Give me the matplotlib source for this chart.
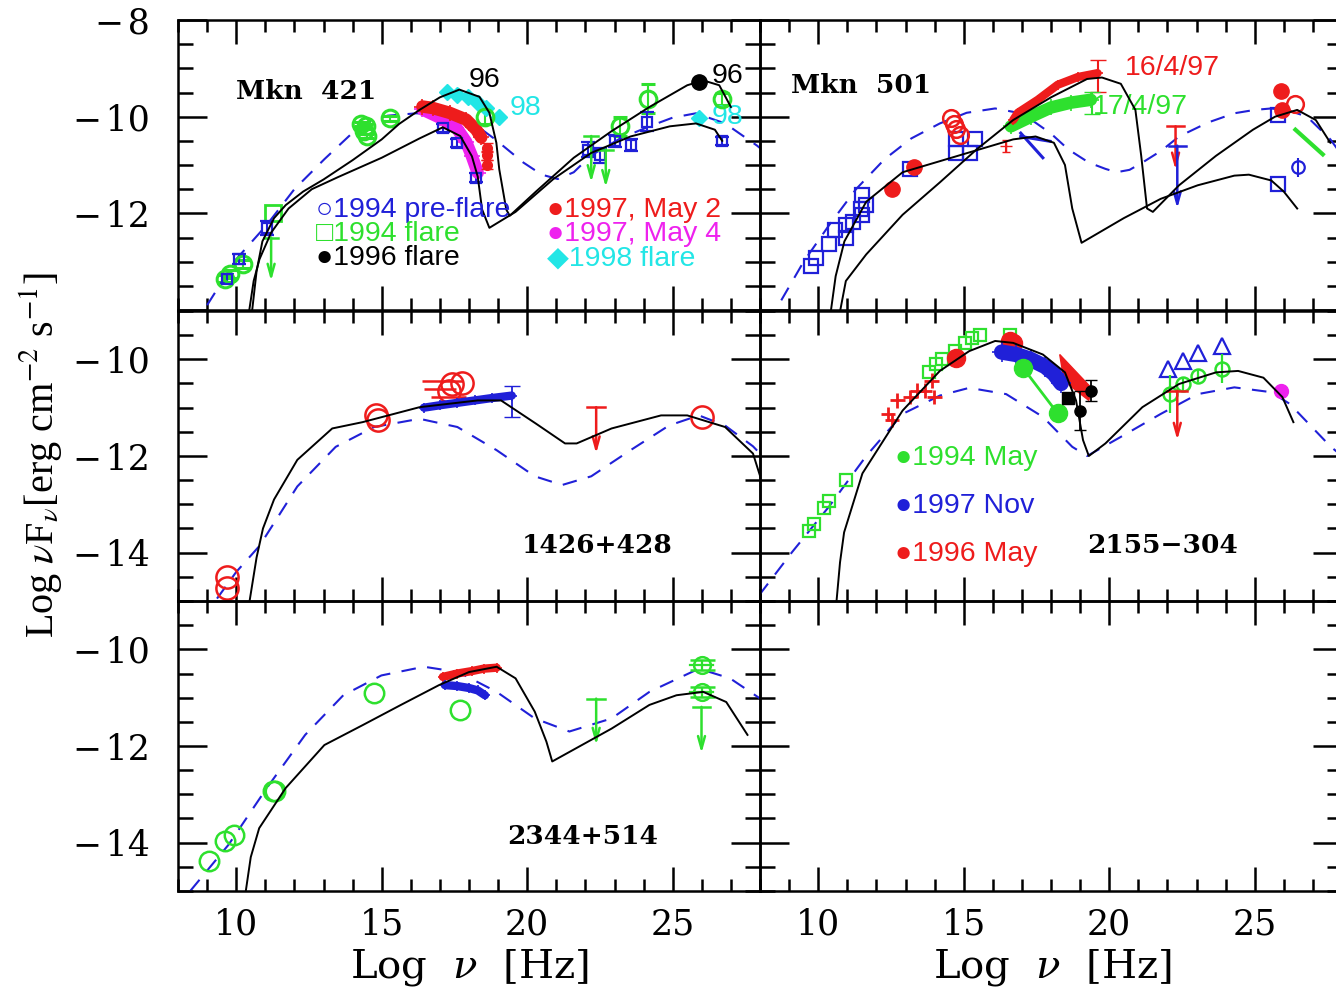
import matplotlib
matplotlib.use('Agg')
import matplotlib.pyplot as plt
from matplotlib.ticker import MultipleLocator, FuncFormatter

plt.rcParams['font.family'] = ['DejaVu Serif']

BLUE = '#2020d8'
GREEN = '#2ee02e'
RED = '#ee1c1c'
MAG = '#ee22ee'
CYAN = '#22e6e6'
BLACK = 'black'
SANS = ['Liberation Sans', 'DejaVu Sans']

# ---------------- Mkn 421 ----------------
m421_dash_x = [9.0, 10.0, 11.05, 12.0, 13.03, 14.34, 15.2, 16.2, 17.0, 18.0, 18.9, 19.87, 20.5, 21.05, 21.6, 22.2, 23.2, 24.2, 25.0, 25.8, 26.8, 27.9, 28.0]
m421_dash_y = [-13.9, -12.95, -12.24, -11.5, -10.88, -10.14, -9.98, -9.93, -9.96, -10.07, -10.47, -10.95, -11.2, -11.29, -11.15, -10.8, -10.45, -10.2, -10.02, -9.93, -10.14, -10.6, -10.65]
m421_lo_x = [10.45, 10.6, 10.8, 11.2, 11.8, 12.6, 13.5, 15.0, 16.3, 17.1, 17.7, 18.1, 18.3, 18.45, 18.7, 19.6, 20.9, 22.2, 23.55, 24.9, 25.8, 26.45, 26.7]
m421_lo_y = [-14.0, -13.4, -12.95, -12.4, -11.9, -11.5, -11.25, -10.85, -10.45, -10.22, -10.4, -10.82, -11.24, -11.92, -12.3, -11.97, -11.29, -10.75, -10.41, -10.2, -10.14, -10.27, -10.5]
m421_hi_x = [10.55, 10.7, 10.9, 11.3, 11.7, 12.3, 13.0, 14.0, 15.0, 15.6, 16.3, 17.0, 17.67, 18.36, 18.7, 18.94, 19.04, 19.28, 19.4, 20.3, 21.6, 22.9, 24.2, 25.5, 26.05, 26.6, 27.0]
m421_hi_y = [-14.0, -13.2, -12.58, -12.1, -11.83, -11.55, -11.3, -10.9, -10.47, -10.15, -9.86, -9.6, -9.44, -9.59, -9.92, -10.54, -11.09, -11.92, -12.05, -11.55, -10.85, -10.3, -9.8, -9.35, -9.25, -9.35, -9.8]
m421_blue_x = [9.7, 10.1, 11.05, 17.1, 17.6, 18.25, 22.1, 22.5, 23.0, 23.55, 24.1, 26.7]
m421_blue_y = [-13.35, -12.95, -12.3, -10.23, -10.54, -11.26, -10.68, -10.8, -10.5, -10.58, -10.1, -10.5]
m421_blue_err = [0.1, 0.1, 0.15, 0.08, 0.08, 0.1, 0.15, 0.15, 0.12, 0.12, 0.2, 0.08]
m421_gsq_x = [11.25]
m421_gsq_y = [-12.0]
m421_gc_x = [9.6, 9.8, 10.25, 14.3, 14.4, 14.5, 14.45, 15.3, 18.55, 23.2, 24.15, 26.7]
m421_gc_y = [-13.35, -13.25, -13.05, -10.15, -10.3, -10.4, -10.2, -10.03, -10.0, -10.2, -9.63, -9.63]
m421_gc_err = [0.08, 0.08, 0.08, 0.05, 0.05, 0.05, 0.05, 0.05, 0.15, 0.2, 0.3, 0.12]
m421_gul_x = [11.2, 22.2, 22.7]
m421_gul_top = [-12.5, -10.4, -10.68]
m421_gul_bot = [-13.4, -11.36, -11.46]
m421_b96_x = [25.9]
m421_b96_y = [-9.29]
m421_cyan_x = [17.26, 17.6, 17.95, 18.3, 18.6, 19.04, 25.9]
m421_cyan_y = [-9.48, -9.55, -9.6, -9.71, -9.82, -10.0, -10.03]
m421_red_x = [16.4, 16.75, 17.33, 17.9, 18.25, 18.42]
m421_red_y = [-9.79, -9.82, -9.92, -10.06, -10.27, -10.43]
m421_redpt_x = [18.63, 18.63, 18.63]
m421_redpt_y = [-10.64, -10.8, -10.99]
m421_mag_x = [16.4, 17.0, 17.57, 17.9, 18.1, 18.3]
m421_mag_y = [-9.85, -10.02, -10.23, -10.52, -10.82, -11.16]

# ---------------- Mkn 501 ----------------
m501_dash_x = [8.73, 9.5, 10.38, 11.3, 12.28, 13.2, 14.18, 15.1, 16.08, 16.7, 17.34, 18.0, 18.6, 19.3, 19.87, 20.25, 20.7, 21.14, 21.8, 22.4, 23.4, 24.3, 25.0, 25.57, 26.2, 26.8, 27.6, 28.0]
m501_dash_y = [-13.8, -13.0, -12.24, -11.5, -10.88, -10.45, -10.14, -9.92, -9.83, -9.9, -10.07, -10.35, -10.68, -10.95, -11.08, -11.15, -11.1, -10.95, -10.7, -10.41, -10.12, -9.93, -9.86, -9.83, -9.88, -10.0, -10.47, -10.8]
m501_hi_x = [10.76, 10.95, 11.65, 12.9, 14.18, 15.44, 16.7, 18.0, 19.24, 19.75, 20.4, 20.9, 21.1, 21.3, 21.5, 22.4, 23.67, 24.94, 25.7, 26.46, 27.1, 27.6]
m501_hi_y = [-14.0, -13.4, -12.85, -12.03, -11.36, -10.68, -10.07, -9.6, -9.22, -9.19, -9.32, -9.86, -10.81, -11.9, -11.97, -11.42, -10.81, -10.27, -10.0, -9.86, -10.07, -10.54]
m501_lo_x = [10.44, 10.6, 10.9, 11.65, 12.9, 14.8, 16.7, 17.47, 18.1, 18.48, 18.73, 19.05, 20.5, 21.77, 23.04, 24.3, 24.8, 25.57, 26.0, 26.46]
m501_lo_y = [-14.0, -13.3, -12.58, -11.76, -11.15, -10.81, -10.47, -10.41, -10.54, -11.0, -11.9, -12.61, -12.1, -11.7, -11.42, -11.22, -11.2, -11.32, -11.55, -11.9]
m501_bsq_x = [9.75, 9.94, 10.38, 10.57, 10.95, 10.95, 11.2, 11.46, 11.52, 11.52, 11.65, 13.16, 14.75, 15.38, 14.75, 15.2, 25.8, 25.8]
m501_bsq_y = [-13.08, -12.92, -12.64, -12.34, -12.51, -12.24, -12.17, -11.9, -11.63, -12.03, -11.83, -11.08, -10.47, -10.47, -10.75, -10.75, -9.97, -11.39]
m501_bpt_x = [26.5]
m501_bpt_y = [-11.05]
m501_rfill_x = [12.53, 13.3, 25.9, 25.95]
m501_rfill_y = [-11.49, -11.05, -9.46, -9.86]
m501_ropen_x = [14.56, 14.68, 14.75, 14.87, 26.4]
m501_ropen_y = [-10.03, -10.15, -10.25, -10.37, -9.73]
m501_rplus_x = [16.46]
m501_rplus_y = [-10.61]
m501_r16_x = [16.7, 16.86, 17.55, 18.23, 18.92, 19.6]
m501_r16_y = [-10.07, -9.92, -9.65, -9.34, -9.18, -9.1]
m501_g17_x = [16.62, 17.31, 18.0, 18.68, 19.37]
m501_g17_y = [-10.2, -10.0, -9.81, -9.71, -9.65]
m501_bow1_x = [16.96, 17.97]
m501_bow1_y = [-10.41, -10.51]
m501_bow2_x = [16.96, 17.72]
m501_bow2_y = [-10.34, -10.85]
m501_gbow_x = [26.4, 27.34]
m501_gbow_y = [-10.27, -10.78]
m501_ul_x = [22.28, 22.34]
m501_ul_top = [-10.2, -10.6]
m501_ul_bot = [-11.1, -11.9]
m501_ul_col = [RED, BLUE]

# ---------------- 1426+428 ----------------
s1426_line_x = [10.46, 10.7, 10.92, 11.3, 12.1, 13.3, 14.34, 16.3, 18.3, 19.1, 20.3, 21.3, 21.7, 22.9, 24.6, 25.5, 26.8, 27.76, 28.1]
s1426_line_y = [-15.0, -14.1, -13.5, -12.9, -12.08, -11.43, -11.3, -10.99, -10.85, -10.85, -11.33, -11.74, -11.74, -11.43, -11.16, -11.16, -11.4, -11.95, -12.6]
s1426_dash_x = [9.34, 10.0, 10.8, 12.1, 13.42, 14.74, 16.3, 17.6, 18.95, 20.26, 21.2, 22.2, 23.55, 24.87, 25.9, 26.8, 27.76, 28.0]
s1426_dash_y = [-14.95, -14.4, -13.86, -12.63, -11.81, -11.4, -11.23, -11.4, -11.88, -12.42, -12.6, -12.42, -11.88, -11.37, -11.16, -11.37, -11.8, -11.95]
s1426_rc_x = [9.67, 9.67, 14.8, 14.87, 26.0, 17.43, 17.76, 17.3]
s1426_rc_y = [-14.5, -14.74, -11.16, -11.26, -11.2, -10.51, -10.48, -10.65]
s1426_rx_x = [17.1, 17.0, 17.3]
s1426_rx_y = [-10.44, -10.61, -10.78]
s1426_rx_err = [0.7, 0.55, 0.6]
s1426_blue_x = [16.45, 17.0, 17.6, 18.2, 18.8, 19.47]
s1426_blue_y = [-11.0, -10.95, -10.9, -10.85, -10.8, -10.75]
s1426_ul_x = [22.37]
s1426_ul_top = [-10.99]
s1426_ul_bot = [-11.95]

# ---------------- 2155-304 ----------------
s2155_line_x = [10.63, 10.75, 10.89, 11.52, 12.9, 14.18, 15.19, 16.08, 16.7, 17.72, 18.48, 18.86, 19.1, 19.3, 19.87, 21.14, 22.4, 23.67, 24.43, 25.3, 25.95, 26.33]
s2155_line_y = [-15.0, -14.2, -13.58, -12.36, -11.06, -10.24, -9.83, -9.62, -9.66, -9.9, -10.27, -10.85, -11.67, -12.0, -11.74, -10.99, -10.51, -10.27, -10.24, -10.38, -10.78, -11.3]
s2155_dash_x = [7.97, 9.1, 10.38, 11.65, 12.9, 14.18, 15.19, 16.46, 17.72, 18.73, 19.24, 20.5, 21.77, 23.04, 24.3, 25.57, 26.2, 27.6, 28.0]
s2155_dash_y = [-14.88, -13.99, -13.04, -12.0, -11.13, -10.75, -10.59, -10.72, -11.19, -11.81, -12.0, -11.57, -11.13, -10.72, -10.58, -10.68, -10.92, -11.8, -12.0]
s2155_gsq_x = [9.68, 9.87, 10.19, 10.38, 10.95, 13.8, 14.05, 14.24, 14.7, 15.06, 15.3, 15.57, 16.58]
s2155_gsq_y = [-13.55, -13.41, -13.07, -12.94, -12.49, -10.27, -10.1, -10.0, -9.83, -9.66, -9.56, -9.49, -9.49]
s2155_rerr_x = [12.4, 12.53, 12.72, 13.16, 13.4, 13.67, 13.9, 13.99]
s2155_rerr_y = [-11.13, -11.26, -10.85, -10.78, -10.65, -10.65, -10.44, -10.78]
s2155_rfill_x = [14.75, 16.58, 16.7]
s2155_rfill_y = [-9.97, -9.62, -9.66]
s2155_rbow_x = [18.3, 18.45, 19.3, 19.4]
s2155_rbow_y = [-9.9, -10.45, -10.85, -10.6]
s2155_blue_x = [16.3, 16.8, 17.3, 17.8, 18.1, 18.35]
s2155_blue_y = [-9.85, -9.9, -10.0, -10.15, -10.3, -10.5]
s2155_g94_x = [17.03, 18.23]
s2155_g94_y = [-10.17, -11.12]
s2155_bk_x = [18.58, 18.99, 19.37]
s2155_bk_y = [-10.79, -11.06, -10.65]
s2155_bk_err = [0.1, 0.4, 0.22]
s2155_tri_x = [22.03, 22.53, 23.04, 23.86]
s2155_tri_y = [-10.2, -10.03, -9.86, -9.73]
s2155_gc_x = [22.09, 22.53, 23.04, 23.86]
s2155_gc_y = [-10.72, -10.51, -10.34, -10.2]
s2155_gc_err = [0.4, 0.15, 0.12, 0.3]
s2155_ul_x = [22.34]
s2155_ul_top = [-10.65]
s2155_ul_bot = [-11.67]
s2155_mag_x = [25.9]
s2155_mag_y = [-10.65]

# ---------------- 2344+514 ----------------
s2344_line_x = [10.33, 10.5, 10.79, 11.7, 13.03, 14.34, 15.66, 16.97, 18.0, 18.95, 19.6, 20.26, 20.66, 20.86, 21.58, 22.9, 24.2, 25.13, 26.05, 26.84, 27.57]
s2344_line_y = [-15.0, -14.3, -13.7, -12.87, -11.98, -11.57, -11.15, -10.74, -10.47, -10.36, -10.6, -11.29, -11.91, -12.32, -12.08, -11.64, -11.15, -10.95, -10.88, -11.09, -11.77]
s2344_dash_x = [8.42, 9.74, 11.05, 12.37, 13.68, 14.99, 16.45, 17.63, 18.95, 20.26, 21.45, 22.9, 24.2, 25.9, 26.97, 27.96, 28.0]
s2344_dash_y = [-15.0, -14.04, -12.87, -11.77, -10.95, -10.54, -10.36, -10.47, -10.88, -11.43, -11.7, -11.43, -10.88, -10.4, -10.6, -11.0, -11.02]
s2344_gc_x = [9.08, 9.6, 9.93, 11.25, 11.35, 14.74, 17.7]
s2344_gc_y = [-14.38, -13.97, -13.84, -12.94, -12.94, -10.91, -11.26]
s2344_gerr_x = [25.99, 25.99]
s2344_gerr_y = [-10.33, -10.88]
s2344_ul_x = [22.37, 25.99]
s2344_ul_top = [-11.02, -11.19]
s2344_ul_bot = [-11.98, -12.15]
s2344_red_x = [17.1, 17.6, 18.1, 18.5, 18.95]
s2344_red_y = [-10.57, -10.5, -10.45, -10.4, -10.38]
s2344_blue_x = [17.17, 17.6, 18.0, 18.3, 18.55]
s2344_blue_y = [-10.74, -10.76, -10.8, -10.85, -10.95]

# ================= figure =================
fig = plt.figure(figsize=(13.36, 9.91), dpi=100)
W = 582 / 1336
H = 290 / 991
lefts = [178 / 1336, 760 / 1336]
bottoms = [1 - 310 / 991, 1 - 601 / 991, 1 - 891 / 991]
axes = [[fig.add_axes([lefts[c], bottoms[r], W, H]) for c in range(2)] for r in range(3)]


def fmt_factory(hide):
    def f(v, p):
        iv = int(round(v))
        if iv in hide:
            return ''
        return ('\u2212\u200a' if iv < 0 else '') + str(abs(iv))
    return FuncFormatter(f)


def style(ax, ylim, showy, showx, hide=()):
    ax.set_facecolor('none')
    ax.set_xlim(8, 28)
    ax.set_ylim(*ylim)
    ax.xaxis.set_major_locator(MultipleLocator(5))
    ax.xaxis.set_minor_locator(MultipleLocator(1))
    ax.yaxis.set_major_locator(MultipleLocator(2))
    ax.yaxis.set_minor_locator(MultipleLocator(0.5))
    ax.yaxis.set_major_formatter(fmt_factory(hide))
    ax.xaxis.set_major_formatter(fmt_factory(()))
    ax.tick_params(which='both', direction='in', top=True, right=True, bottom=True, left=True,
                   width=1.8, colors='black',
                   labelleft=showy, labelbottom=showx, labelsize=25)
    ax.tick_params(axis='x', which='major', length=17, pad=12)
    ax.tick_params(axis='x', which='minor', length=8.5)
    ax.tick_params(axis='y', which='major', length=21, pad=20)
    ax.tick_params(axis='y', which='minor', length=10.5)
    for s in ax.spines.values():
        s.set_linewidth(1.8)
        s.set_zorder(10)


style(axes[0][0], (-14, -8), True, False, hide=(-14,))
style(axes[0][1], (-14, -8), False, False)
style(axes[1][0], (-15, -9), True, False)
style(axes[1][1], (-15, -9), False, False)
style(axes[2][0], (-15, -9), True, True)
style(axes[2][1], (-15, -9), False, True)


def model(ax, x, y):
    ax.plot(x, y, color=BLACK, lw=1.4, zorder=5)


def dash(ax, x, y):
    ax.plot(x, y, color=BLUE, lw=1.5, dashes=(7, 5.5), zorder=2)


def ulims(ax, xs, tops, bots, cols, capw=0.3):
    for x, t, b, c in zip(xs, tops, bots, cols):
        ax.annotate('', xy=(x, b), xytext=(x, t),
                    arrowprops=dict(arrowstyle='->,head_length=0.9,head_width=0.25', color=c, lw=1.8,
                                    shrinkA=0, shrinkB=0), zorder=4)
        ax.plot([x - capw, x + capw], [t, t], color=c, lw=1.8, zorder=4)


def band(ax, x, y, color, lw):
    ax.plot(x, y, color=color, lw=lw, solid_capstyle='round', zorder=3)
    ax.plot(x, y, ls='none', marker='+', ms=lw * 1.3, color=color, mew=1.2, zorder=3)


SANSFS = 20.5
leg_kw = dict(fontsize=SANSFS, family=SANS, va='center', ha='left', zorder=8)
name_kw = dict(fontsize=19, fontweight='bold', va='center')

# ---- Mkn 421 ----
ax = axes[0][0]
dash(ax, m421_dash_x, m421_dash_y)
model(ax, m421_lo_x, m421_lo_y)
model(ax, m421_hi_x, m421_hi_y)
ax.errorbar(m421_gc_x, m421_gc_y, yerr=m421_gc_err, fmt='o', ms=12, mfc='none', mec=GREEN, mew=2.2,
            ecolor=GREEN, elinewidth=1.5, capsize=5, zorder=3)
ax.plot(m421_gsq_x, m421_gsq_y, 's', ms=11, mfc='none', mec=GREEN, mew=2, zorder=3)
ax.errorbar(m421_blue_x, m421_blue_y, yerr=m421_blue_err, fmt='s', ms=7, mfc='none', mec=BLUE, mew=1.6,
            ecolor=BLUE, elinewidth=1.5, capsize=5, zorder=3)
band(ax, m421_mag_x, m421_mag_y, MAG, 9)
band(ax, m421_red_x, m421_red_y, RED, 9)
ax.errorbar(m421_redpt_x, m421_redpt_y, yerr=0.1, fmt='o', ms=7, color=RED, capsize=4, zorder=3)
ax.plot(m421_cyan_x, m421_cyan_y, 'D', ms=8, color=CYAN, zorder=3)
ax.plot(m421_b96_x, m421_b96_y, 'o', ms=11, color=BLACK, zorder=6)
ulims(ax, m421_gul_x, m421_gul_top, m421_gul_bot, [GREEN] * 3, capw=0.25)
ax.text(10.0, -9.48, 'Mkn  421', ha='left', **name_kw)
ax.text(18.0, -9.25, '96', fontsize=SANSFS, family=SANS, va='center', ha='left', zorder=7)
ax.text(26.35, -9.15, '96', fontsize=SANSFS, family=SANS, va='center', ha='left', zorder=7)
ax.text(19.4, -9.82, '98', fontsize=SANSFS, family=SANS, color=CYAN, va='center', ha='left')
ax.text(26.35, -10.0, '98', fontsize=SANSFS, family=SANS, color=CYAN, va='center', ha='left')
ax.text(12.74, -11.94, '\u25cb1994 pre-flare', color=BLUE, **leg_kw)
ax.text(12.74, -12.43, '\u25a11994 flare', color=GREEN, **leg_kw)
ax.text(12.74, -12.93, '\u25cf1996 flare', color=BLACK, **leg_kw)
ax.text(20.68, -11.94, '\u25cf1997, May 2', color=RED, **leg_kw)
ax.text(20.68, -12.43, '\u25cf1997, May 4', color=MAG, **leg_kw)
ax.text(20.68, -12.93, '\u25c61998 flare', color=CYAN, **leg_kw)

# ---- Mkn 501 ----
ax = axes[0][1]
dash(ax, m501_dash_x, m501_dash_y)
model(ax, m501_hi_x, m501_hi_y)
model(ax, m501_lo_x, m501_lo_y)
ax.plot(m501_bsq_x, m501_bsq_y, 's', ms=10, mfc='none', mec=BLUE, mew=1.6, zorder=3)
ax.errorbar(m501_bpt_x, m501_bpt_y, yerr=0.2, fmt='o', ms=9, mfc='none', mec=BLUE, ecolor=BLUE,
            mew=1.6, capsize=0, zorder=3)
ax.plot(m501_rfill_x, m501_rfill_y, 'o', ms=11, color=RED, zorder=3)
ax.plot(m501_ropen_x, m501_ropen_y, 'o', ms=12, mfc='none', mec=RED, mew=1.8, zorder=3)
ax.errorbar(m501_rplus_x, m501_rplus_y, yerr=0.12, fmt='+', ms=8, color=RED, capsize=3, zorder=3)
ax.text(19.43, -9.79, '17/4/97', fontsize=SANSFS, family=SANS, color=GREEN, va='center', ha='left', zorder=1)
ax.text(20.53, -9.0, '16/4/97', fontsize=SANSFS, family=SANS, color=RED, va='center', ha='left')
band(ax, m501_g17_x, m501_g17_y, GREEN, 9)
band(ax, m501_r16_x, m501_r16_y, RED, 6)
ax.errorbar([19.6], [-9.15], yerr=0.33, fmt='none', ecolor=RED, capsize=6, elinewidth=1.5, zorder=3)
ax.errorbar([19.4], [-9.72], yerr=0.23, fmt='none', ecolor=GREEN, capsize=6, elinewidth=1.5, zorder=3)
ax.plot(m501_bow1_x, m501_bow1_y, color=BLUE, lw=2.2, zorder=3)
ax.plot(m501_bow2_x, m501_bow2_y, color=BLUE, lw=2.2, zorder=3)
ax.plot(m501_gbow_x, m501_gbow_y, color=GREEN, lw=3, zorder=3)
ulims(ax, m501_ul_x, m501_ul_top, m501_ul_bot, m501_ul_col, capw=0.3)
ax.text(9.05, -9.36, 'Mkn  501', ha='left', **name_kw)

# ---- 1426+428 ----
ax = axes[1][0]
dash(ax, s1426_dash_x, s1426_dash_y)
model(ax, s1426_line_x, s1426_line_y)
ax.errorbar(s1426_rx_x, s1426_rx_y, xerr=s1426_rx_err, fmt='none', ecolor=RED, elinewidth=1.8, capsize=0, zorder=3)
ax.plot(s1426_rc_x, s1426_rc_y, 'o', ms=16, mfc='none', mec=RED, mew=1.8, zorder=3)
band(ax, s1426_blue_x, s1426_blue_y, BLUE, 6)
ax.errorbar([19.47], [-10.87], yerr=0.32, fmt='none', ecolor=BLUE, capsize=6, elinewidth=1.3, zorder=3)
ulims(ax, s1426_ul_x, s1426_ul_top, s1426_ul_bot, [RED], capw=0.3)
ax.text(22.4, -13.85, '1426+428', ha='center', **name_kw)

# ---- 2155-304 ----
ax = axes[1][1]
dash(ax, s2155_dash_x, s2155_dash_y)
model(ax, s2155_line_x, s2155_line_y)
ax.plot(s2155_gsq_x, s2155_gsq_y, 's', ms=9, mfc='none', mec=GREEN, mew=1.6, zorder=3)
ax.errorbar(s2155_rerr_x, s2155_rerr_y, xerr=0.25, yerr=0.15, fmt='none', ecolor=RED, elinewidth=2, capsize=0, zorder=3)
ax.plot(s2155_rfill_x, s2155_rfill_y, 'o', ms=13, color=RED, zorder=3)
ax.fill(s2155_rbow_x, s2155_rbow_y, color=RED, zorder=3)
band(ax, s2155_blue_x, s2155_blue_y, BLUE, 11)
ax.plot(s2155_g94_x, s2155_g94_y, '-o', color=GREEN, ms=13, lw=2, zorder=4)
ax.errorbar(s2155_bk_x, s2155_bk_y, yerr=s2155_bk_err, fmt='none', ecolor=BLACK, capsize=4, elinewidth=1.3, zorder=4)
ax.plot(s2155_bk_x[:1], s2155_bk_y[:1], 's', ms=8, color=BLACK, zorder=4)
ax.plot(s2155_bk_x[1:], s2155_bk_y[1:], 'o', ms=8, color=BLACK, zorder=4)
ax.plot(s2155_tri_x, s2155_tri_y, '^', ms=12, mfc='none', mec=BLUE, mew=1.6, zorder=3)
ax.errorbar(s2155_gc_x, s2155_gc_y, yerr=s2155_gc_err, fmt='o', ms=10, mfc='none', mec=GREEN, mew=1.8,
            ecolor=GREEN, elinewidth=1.6, capsize=0, zorder=3)
ulims(ax, s2155_ul_x, s2155_ul_top, s2155_ul_bot, [RED], capw=0.35)
ax.plot(s2155_mag_x, s2155_mag_y, 'o', ms=10, color=MAG, zorder=3)
ax.text(12.64, -12.05, '\u25cf1994 May', color=GREEN, **leg_kw)
ax.text(12.64, -13.04, '\u25cf1997 Nov', color=BLUE, **leg_kw)
ax.text(12.64, -14.03, '\u25cf1996 May', color=RED, **leg_kw)
ax.text(21.84, -13.85, '2155\u2212304', ha='center', **name_kw)

# ---- 2344+514 ----
ax = axes[2][0]
dash(ax, s2344_dash_x, s2344_dash_y)
model(ax, s2344_line_x, s2344_line_y)
ax.plot(s2344_gc_x, s2344_gc_y, 'o', ms=14, mfc='none', mec=GREEN, mew=1.8, zorder=3)
ax.errorbar(s2344_gerr_x, s2344_gerr_y, yerr=0.1, fmt='o', ms=12, mfc='none', mec=GREEN, mew=1.8,
            ecolor=GREEN, elinewidth=1.6, capsize=9, capthick=2.5, zorder=3)
ax.plot([25.6, 26.38], [-10.33, -10.33], color=GREEN, lw=1.6, zorder=3)
ax.plot([25.6, 26.38], [-10.88, -10.88], color=GREEN, lw=1.6, zorder=3)
ulims(ax, s2344_ul_x, s2344_ul_top, s2344_ul_bot, [GREEN, GREEN], capw=0.3)
band(ax, s2344_red_x, s2344_red_y, RED, 6)
band(ax, s2344_blue_x, s2344_blue_y, BLUE, 6)
ax.text(21.9, -13.87, '2344+514', ha='center', **name_kw)

# ---- axis labels ----
fig.text(0.03, 0.541, r'Log $\nu$F$_\nu$[erg cm$^{-2}$ s$^{-1}$]', rotation=90, va='center', ha='center',
         fontsize=29, family='Liberation Serif', math_fontfamily='stix')
for xc in (469 / 1336, 1052 / 1336):
    fig.text(xc, 1 - 968 / 991, r'Log  $\nu$  [Hz]', va='center', ha='center', fontsize=29,
             math_fontfamily='dejavuserif')

fig.savefig('out.png', dpi=100)
